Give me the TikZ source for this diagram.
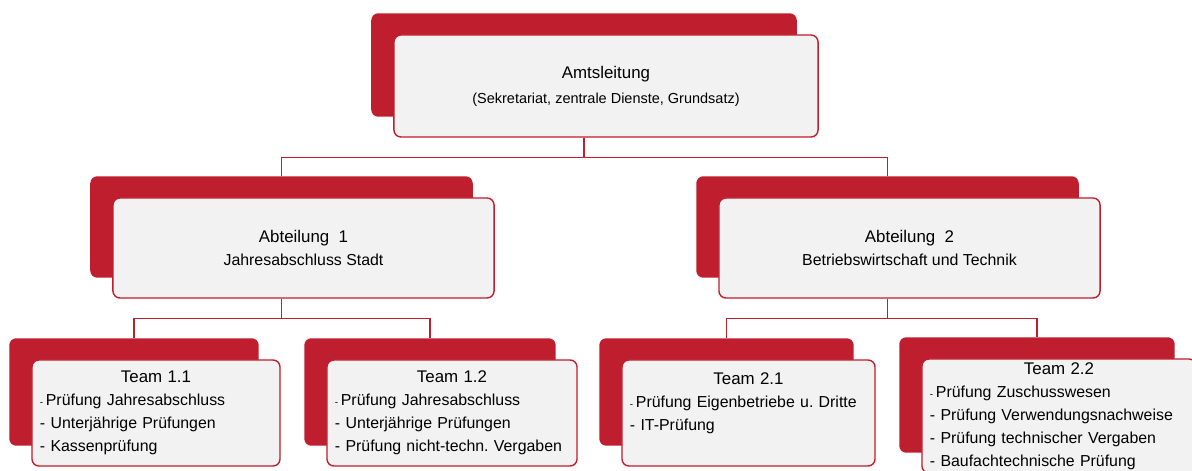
\documentclass[tikz,border=0pt]{standalone}
\usepackage{fontspec}
\setmainfont{Liberation Sans}
\usetikzlibrary{fit,backgrounds}
\definecolor{amtred}{RGB}{190,30,45}
\definecolor{cardgrey}{RGB}{242,242,242}
\newcommand{\cardhead}[1]{{\fontsize{12}{14}\selectfont #1}}
\newcommand{\teamhead}[1]{\makebox[\linewidth]{\fontsize{12}{14}\selectfont #1}}
\frenchspacing

\begin{document}
\begin{tikzpicture}[x=0.025cm, y=-0.025cm,
    card/.style={rectangle, draw=amtred, line width=1pt, fill=cardgrey,
        rounded corners=5pt, align=center, text=black},
    backbox/.style={rectangle, fill=amtred, rounded corners=5pt, inner sep=0pt},
    unit/.style={card, minimum width=9.525cm, minimum height=2.5cm,
        font=\fontsize{11.3}{16.3}\selectfont},
    team/.style={card, align=left, inner xsep=0.2cm, inner ysep=2pt,
        minimum height=2.65cm, font=\fontsize{11.3}{16.3}\selectfont},
    link/.style={amtred, line width=1.1pt}
]
    \useasboundingbox (0,0) rectangle (1192,471);
    \clip (0,0) rectangle (1192,471);

    % Leitung
    \node[card, minimum width=10.6cm, minimum height=2.55cm,
        font=\fontsize{10.3}{17.7}\selectfont] (amt) at (606,86)
        {\cardhead{Amtsleitung}\\(Sekretariat, zentrale Dienste, Grundsatz)};

    % Abteilungen
    \node[unit] (abt1) at (303.5,248) {\cardhead{Abteilung~~1}\\Jahresabschluss Stadt};
    \node[unit] (abt2) at (909.5,248) {\cardhead{Abteilung~~2}\\Betriebswirtschaft und Technik};

    % Teams
    \node[team, text width=5.8cm] (t11) at (156,413) {\teamhead{Team 1.1}\\
        {\scriptsize-}\,Prüfung Jahresabschluss\\- Unterjährige Prüfungen\\- Kassenprüfung};
    \node[team, text width=5.85cm] (t12) at (452,413) {\teamhead{Team 1.2}\\
        {\scriptsize-}\,Prüfung Jahresabschluss\\- Unterjährige Prüfungen\\- Prüfung nicht-techn. Vergaben};
    \node[team, text width=5.925cm] (t21) at (748.5,413) {\teamhead{Team 2.1}\\
        {\scriptsize-}\,Prüfung Eigenbetriebe u. Dritte\\- IT-Prüfung\\ \mbox{}};
    \node[team, text width=6.45cm, minimum height=2.85cm] (t22) at (1059,416) {\teamhead{Team 2.2}\\
        {\scriptsize-}\,Prüfung Zuschusswesen\\- Prüfung Verwendungsnachweise\\
        - Prüfung technischer Vergaben\\- Baufachtechnische Prüfung};

    % red cards behind
    \begin{scope}[on background layer]
        \foreach \n in {amt,abt1,abt2,t11,t12,t21,t22}
            \node[backbox, fit=(\n), shift={(-22,-21)}] (\n-bk) {};
    \end{scope}

    % Verbindungen
    \draw[link] (amt-bk.south |- amt.south) -- ++(0,20) -| (abt1-bk.north);
    \draw[link] (amt-bk.south |- amt.south) -- ++(0,20) -| (abt2-bk.north);
    \draw[link] (abt1-bk.south |- abt1.south) -- ++(0,20) -| (t11-bk.north);
    \draw[link] (abt1-bk.south |- abt1.south) -- ++(0,20) -| (t12-bk.north);
    \draw[link] (abt2-bk.south |- abt2.south) -- ++(0,20) -| (t21-bk.north);
    \draw[link] (abt2-bk.south |- abt2.south) -- ++(0,20) -| (t22-bk.north);
\end{tikzpicture}
\end{document}
